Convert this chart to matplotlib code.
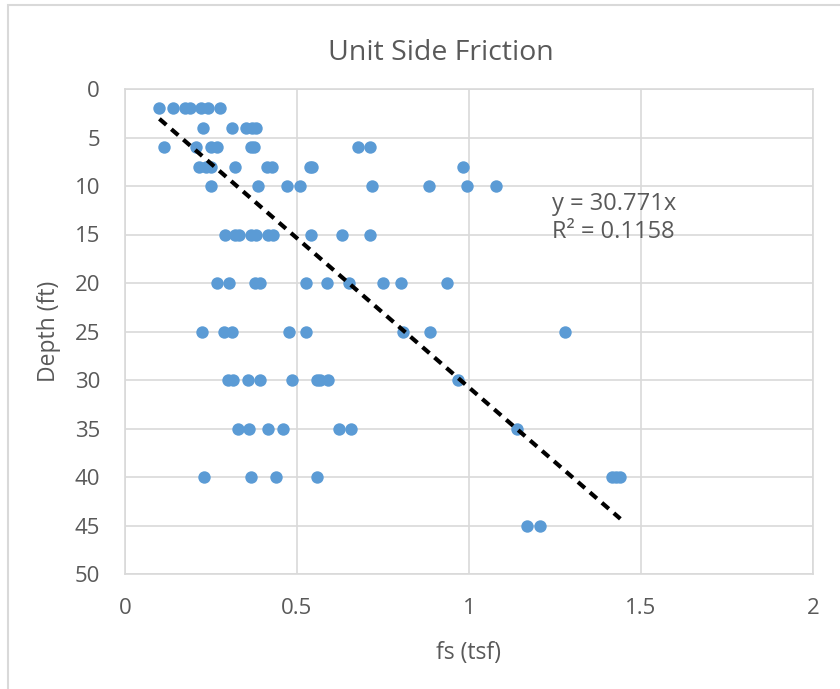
import numpy as np
import matplotlib
matplotlib.use("Agg")
import matplotlib.pyplot as plt
from matplotlib.patches import Rectangle

plt.rcParams['font.family'] = ['Open Sans', 'DejaVu Sans']

# unit side friction (tsf) read at each depth (ft)
depth_2 = [0.10, 0.14, 0.175, 0.19, 0.22, 0.24, 0.275]
depth_4 = [0.226, 0.311, 0.352, 0.368, 0.381]
depth_6 = [0.114, 0.206, 0.249, 0.266, 0.366, 0.375, 0.676, 0.712]
depth_8 = [0.216, 0.235, 0.249, 0.319, 0.412, 0.426, 0.538, 0.544, 0.984]
depth_10 = [0.25, 0.388, 0.47, 0.51, 0.719, 0.884, 0.995, 1.078]
depth_15 = [0.292, 0.320, 0.330, 0.366, 0.381, 0.415, 0.431, 0.540, 0.630, 0.713]
depth_20 = [0.266, 0.303, 0.379, 0.392, 0.527, 0.587, 0.651, 0.750, 0.801, 0.935]
depth_25 = [0.223, 0.288, 0.311, 0.476, 0.527, 0.809, 0.887, 1.279]
depth_30 = [0.300, 0.313, 0.357, 0.391, 0.485, 0.557, 0.567, 0.590, 0.967]
depth_35 = [0.329, 0.361, 0.415, 0.458, 0.621, 0.658, 1.139]
depth_40 = [0.229, 0.365, 0.439, 0.557, 1.415, 1.428, 1.44]
depth_45 = [1.170, 1.207]

groups = {2: depth_2, 4: depth_4, 6: depth_6, 8: depth_8, 10: depth_10,
          15: depth_15, 20: depth_20, 25: depth_25, 30: depth_30,
          35: depth_35, 40: depth_40, 45: depth_45}

fs = []
depth = []
for d, vals in groups.items():
    fs += vals
    depth += [d] * len(vals)
fs = np.array(fs)
depth = np.array(depth)

slope = 30.771
r2 = 0.1158

txt = '#595959'
grid = '#d9d9d9'

fig = plt.figure(figsize=(8.4, 6.89), dpi=100)
fig.patches.append(Rectangle((8 / 840, -0.1), 1.2, 1 - 5 / 689 + 0.1,
                             transform=fig.transFigure, fill=False,
                             edgecolor='#d9d9d9', linewidth=1.5))

ax = fig.add_axes([125 / 840, 1 - 574 / 689, 688 / 840, 485 / 689])
ax.scatter(fs, depth, s=80, color='#5B9BD5', zorder=3, linewidths=0)

xl = np.array([fs.min(), fs.max()])
ax.plot(xl, slope * xl, color='black', linestyle=(0, (2.2, 1.6)),
        linewidth=3, zorder=4)

ax.set_xlim(0, 2)
ax.set_ylim(50, 0)
ax.set_xticks([0, 0.5, 1, 1.5, 2])
ax.set_xticklabels(['0', '0.5', '1', '1.5', '2'])
ax.set_yticks(range(0, 51, 5))
ax.grid(True, color=grid, linewidth=1.2)
ax.set_axisbelow(True)
for sp in ax.spines.values():
    sp.set_color(grid)
    sp.set_linewidth(1.2)
ax.tick_params(length=0, labelsize=16, colors=txt)
ax.tick_params(axis='y', pad=18)
ax.tick_params(axis='x', pad=17)

fig.text(441 / 840, 1 - 53 / 689, 'Unit Side Friction', fontsize=20.5,
         color=txt, ha='center', va='center')
ax.set_xlabel('fs (tsf)', fontsize=16.5, color=txt, labelpad=16)
ax.set_ylabel('Depth (ft)', fontsize=16.5, color=txt, labelpad=10)

ax.text(1.24, 11.9, 'y = 30.771x', fontsize=17, color=txt, va='center')
ax.text(1.24, 14.7, 'R² = 0.1158', fontsize=17, color=txt, va='center')

fig.savefig('out.png', dpi=100, facecolor='white')
